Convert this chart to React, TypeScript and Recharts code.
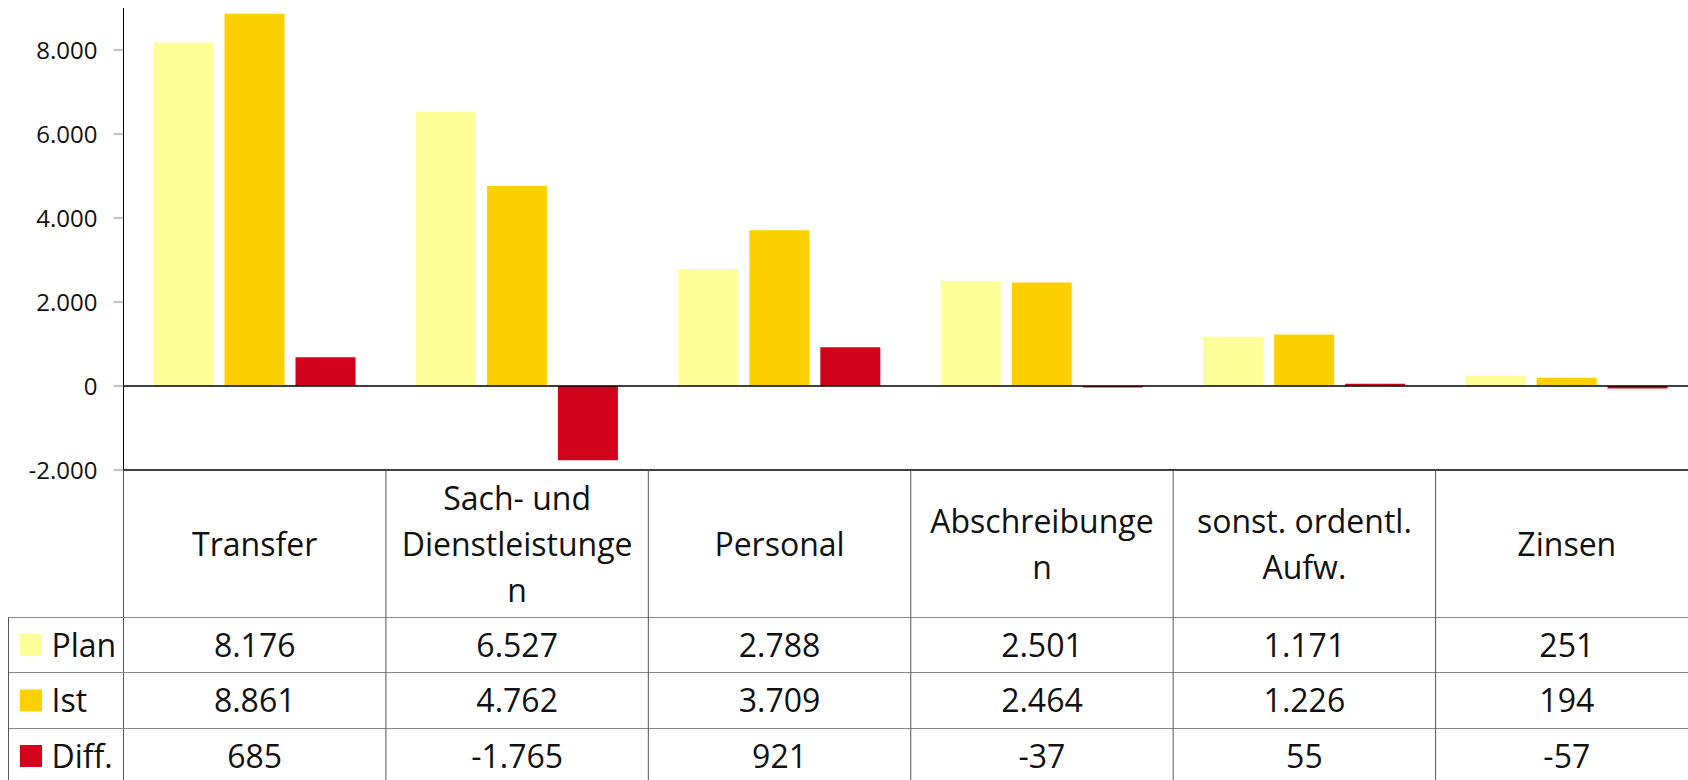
import { BarChart, Bar, XAxis, YAxis, ReferenceLine } from 'recharts';

const categories = ['Transfer', 'Sach- und Dienstleistungen', 'Personal', 'Abschreibungen', 'sonst. ordentl. Aufw.', 'Zinsen'];
const headerLines = [
  ['Transfer'],
  ['Sach- und', 'Dienstleistunge', 'n'],
  ['Personal'],
  ['Abschreibunge', 'n'],
  ['sonst. ordentl.', 'Aufw.'],
  ['Zinsen'],
];
const plan = [8176, 6527, 2788, 2501, 1171, 251];
const ist = [8861, 4762, 3709, 2464, 1226, 194];
const diff = [685, -1765, 921, -37, 55, -57];
const yTicks = [-2000, 0, 2000, 4000, 6000, 8000];

const series = [
  { key: 'plan', name: 'Plan', color: '#FFFF99', values: plan },
  { key: 'ist', name: 'Ist', color: '#FDD100', values: ist },
  { key: 'diff', name: 'Diff.', color: '#D2021A', values: diff },
];

const data = categories.map((name, i) => ({
  name,
  plan: plan[i],
  ist: ist[i],
  diff: diff[i],
}));

// layout (svg coords, chart sits at 8,8 on the page; the right end runs past the window)
const W = 1690;
const H = 772;
const Y_AXIS_W = 115.5;
const X_AXIS_H = 310;
const AXIS_Y = H - X_AXIS_H;
const BAND = (W - Y_AXIS_W) / categories.length;
const HEADER_BASE = 548;
const LINE_H = 46;
const ROW_LINES = [609.5, 664.5, 720.5];
const ROW_MID = [637, 692.5, 748];
const FONT = '"Open Sans", "Noto Sans", sans-serif';
const TABLE_FS = 32;

const fmt = (v: number) =>
  (v < 0 ? '-' : '') + Math.abs(v).toString().replace(/\B(?=(\d{3})+(?!\d))/g, '.');

function TableTick(props: any) {
  const { x, payload } = props;
  const i = payload.index;
  const left = x - BAND / 2;
  const lines = headerLines[i];
  const firstBase = HEADER_BASE - ((lines.length - 1) * LINE_H) / 2;

  return (
    <g>
      <line x1={left} x2={left} y1={AXIS_Y} y2={H} stroke="#555" strokeWidth={1} />
      {lines.map((l, k) => (
        <text key={k} x={x} y={firstBase + k * LINE_H} textAnchor="middle" fontSize={TABLE_FS} fill="#111" fontFamily={FONT}>
          {l}
        </text>
      ))}
      {series.map((s, r) => (
        <text key={s.key} x={x} y={ROW_MID[r] + 11.5} textAnchor="middle" fontSize={TABLE_FS} fill="#111" fontFamily={FONT}>
          {fmt(s.values[i])}
        </text>
      ))}
      {i === 0 && (
        <g>
          {ROW_LINES.map((y) => (
            <line key={y} x1={0} x2={W} y1={y} y2={y} stroke="#888" strokeWidth={1} />
          ))}
          <line x1={0.5} x2={0.5} y1={ROW_LINES[0]} y2={H} stroke="#555" strokeWidth={1} />
          {series.map((s, r) => (
            <g key={s.key}>
              <rect x={12} y={ROW_MID[r] - 11} width={22} height={22} fill={s.color} />
              <text x={43.5} y={ROW_MID[r] + 11.5} fontSize={TABLE_FS} fill="#111" fontFamily={FONT}>
                {s.name}
              </text>
            </g>
          ))}
        </g>
      )}
    </g>
  );
}

export default function App() {
  return (
    <div style={{ position: 'absolute', left: 8, top: 8, width: W, height: H }}>
      <style>{'html,body{overflow:hidden;margin:0}'}</style>
      <BarChart
        width={W}
        height={H}
        data={data}
        margin={{ top: 0, right: 0, bottom: 0, left: 0 }}
        barSize={60}
        barGap={11}
        style={{ fontFamily: FONT }}
      >
        <YAxis
          width={Y_AXIS_W}
          domain={[-2000, 9000]}
          ticks={yTicks}
          tickFormatter={fmt}
          tick={{ fill: '#111', fontSize: 24, fontFamily: FONT }}
          tickSize={10}
          tickMargin={16}
          tickLine={{ stroke: '#888' }}
          axisLine={{ stroke: '#000', strokeWidth: 1 }}
          allowDataOverflow
        />
        <XAxis
          dataKey="name"
          height={X_AXIS_H}
          interval={0}
          tickLine={false}
          axisLine={{ stroke: '#000', strokeWidth: 1.5 }}
          tick={(p: any) => <TableTick {...p} />}
        />
        <ReferenceLine y={0} stroke="#000" strokeWidth={1.5} />
        {series.map((s) => (
          <Bar key={s.key} dataKey={s.key} name={s.name} fill={s.color} isAnimationActive={false} />
        ))}
      </BarChart>
    </div>
  );
}
